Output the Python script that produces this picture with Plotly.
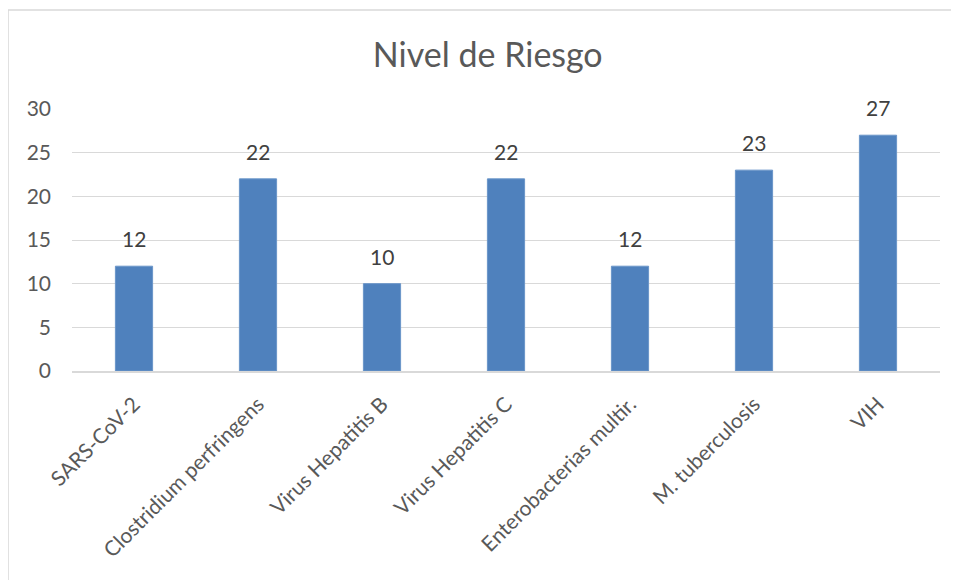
import plotly.graph_objects as go

# Datos del gráfico
categorias = ["SARS-CoV-2", "Clostridium perfringens", "Virus Hepatitis B",
              "Virus Hepatitis C", "Enterobacterias multir.", "M. tuberculosis", "VIH"]
riesgo = [12, 22, 10, 22, 12, 23, 27]
ticks_y = [0, 5, 10, 15, 20, 25, 30]

FONT = "Lato, Calibri, sans-serif"
GRIS = "#595959"

fig = go.Figure(go.Bar(
    x=categorias, y=riesgo,
    marker_color="#4F81BD",
    marker_line_color="#6A95C9", marker_line_width=1,
))

# Etiquetas de datos sobre las barras
for c, v in zip(categorias, riesgo):
    fig.add_annotation(x=c, y=v, text=str(v), showarrow=False,
                       yanchor="bottom", yshift=13,
                       font=dict(size=21, color="#404040", family=FONT))

fig.update_layout(
    width=951, height=572,
    margin=dict(l=64, r=19, t=101, b=209),
    paper_bgcolor="white", plot_bgcolor="white",
    font=dict(family=FONT, color=GRIS, size=20),
    bargap=0.7,
    showlegend=False,
    title=dict(text="Nivel de Riesgo", x=0.479, xref="paper", xanchor="center",
               y=1 - 47 / 572, yanchor="middle",
               font=dict(size=34, color=GRIS, family=FONT)),
)

fig.update_yaxes(range=[0, 30], tickvals=ticks_y, showgrid=True,
                 gridcolor="#D9D9D9", gridwidth=1, zeroline=False,
                 showline=False, ticks="", ticklen=0, ticklabelstandoff=20,
                 tickfont=dict(size=21, color=GRIS))
fig.update_xaxes(tickangle=-45, showline=True, linecolor="#D9D9D9", linewidth=1.5,
                 ticks="", ticklabelstandoff=11, tickfont=dict(size=21, color=GRIS))

# Borde del área del gráfico (estilo Excel)
fig.add_shape(type="rect", xref="paper", yref="paper",
              x0=-0.0737, x1=1.2, y0=-1.5, y1=1.378,
              line=dict(color="#D9D9D9", width=1.5), layer="below")

fig.write_html("out.html")
